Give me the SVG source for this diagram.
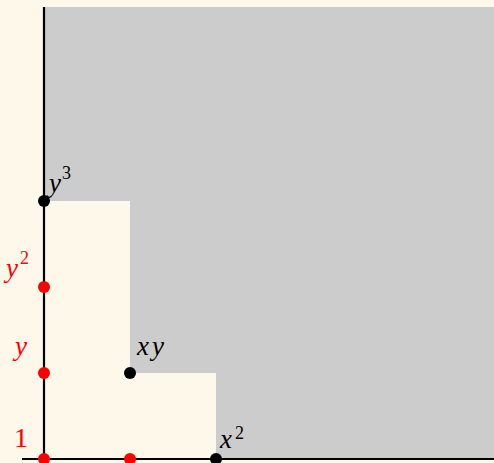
<svg xmlns="http://www.w3.org/2000/svg" width="494" height="463" viewBox="0 0 494 463">
<style>
.lbl{font-family:"Liberation Serif","DejaVu Serif",serif;font-style:italic;font-size:27px}
.num{font-family:"Liberation Serif","DejaVu Serif",serif;font-size:28px}
.sup{font-family:"Liberation Serif","DejaVu Serif",serif;font-size:18px}
.red{fill:#ff0000}
.blk{fill:#000000}
</style>
<rect width="494" height="463" fill="#fdf8ea"/>
<polygon id="region" points="44,7 494,7 494,459 216,459 216,373 130,373 130,201 44,201" fill="#cccccc"/>
<g id="connectors" stroke="#000" stroke-width="2.2">
<line x1="44" y1="7" x2="44" y2="463"/>
<line x1="22" y1="459" x2="494" y2="459"/>
</g>
<g id="n1"><circle cx="44" cy="459" r="6" class="red"/><text x="14" y="447" class="num red">1</text></g>
<g id="nx"><circle cx="130" cy="459" r="6" class="red"/></g>
<g id="nx2"><circle cx="216" cy="459" r="6" class="blk"/><text x="220" y="448" class="lbl blk">x</text><text x="235" y="439" class="sup blk">2</text></g>
<g id="ny"><circle cx="44" cy="373" r="6" class="red"/><text x="15" y="355" class="lbl red">y</text></g>
<g id="ny2"><circle cx="44" cy="287" r="6" class="red"/><text x="6" y="277" class="lbl red">y</text><text x="20" y="264" class="sup red">2</text></g>
<g id="ny3"><circle cx="44" cy="201" r="6" class="blk"/><text x="49" y="192" class="lbl blk">y</text><text x="62" y="179" class="sup blk">3</text></g>
<g id="nxy"><circle cx="130" cy="373" r="6" class="blk"/><text x="137" y="355" class="lbl blk" letter-spacing="3">xy</text></g>
</svg>
